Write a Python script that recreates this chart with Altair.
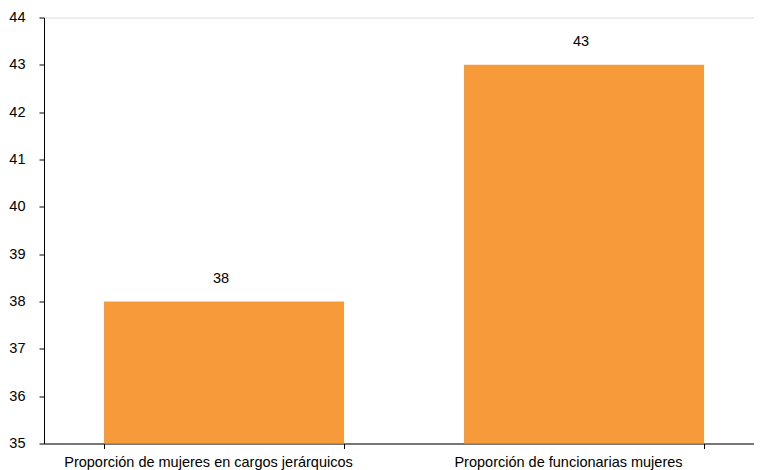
import altair as alt
import pandas as pd

categories = ["Proporción de mujeres en cargos jerárquicos", "Proporción de funcionarias mujeres"]
values = [38, 43]
y_ticks = [35, 36, 37, 38, 39, 40, 41, 42, 43, 44]

df = pd.DataFrame({"cat": categories, "val": values})

FONT = "Liberation Sans"
FS = 14.5

x_scale = alt.Scale(paddingInner=1/3, paddingOuter=1/6, range=[0, 720])
x_enc = alt.X("cat:N", sort=categories, title=None, scale=x_scale,
              axis=alt.Axis(labelAngle=0, tickBand="extent", labelFontSize=FS,
                            labelFont=FONT, labelColor="#000", domainColor="#000",
                            tickColor="#000", tickSize=5, labelPadding=7, labelLimit=0,
                            labelOffset=-16, domainWidth=1, tickWidth=1))
y_scale = alt.Scale(domain=[35, 44], nice=False, zero=False)

bars = alt.Chart(df).mark_bar(color="#F79B3A").encode(
    x=x_enc,
    y=alt.Y("val:Q", scale=y_scale, title=None,
            axis=alt.Axis(values=y_ticks, grid=False, labelFontSize=FS, labelFont=FONT,
                          labelColor="#000", domainColor="#000", tickColor="#000",
                          tickSize=5, labelPadding=14, domainWidth=1, tickWidth=1)),
    y2=alt.datum(35),
)

labels = alt.Chart(df).mark_text(font=FONT, fontSize=FS, color="#000", dy=-23, dx=-3,
                                 baseline="middle").encode(
    x=alt.X("cat:N", sort=categories, scale=x_scale),
    y=alt.Y("val:Q", scale=y_scale),
    text=alt.Text("val:Q"),
)

chart = alt.layer(bars, labels).properties(
    width=710, height=426,
    autosize=alt.AutoSizeParams(type="none"),
    padding={"left": 36, "top": 9.5, "right": 0, "bottom": 40},
).configure_view(stroke=None).configure(background="white")

chart.save("out.html", embed_options={"renderer": "svg", "actions": False})
